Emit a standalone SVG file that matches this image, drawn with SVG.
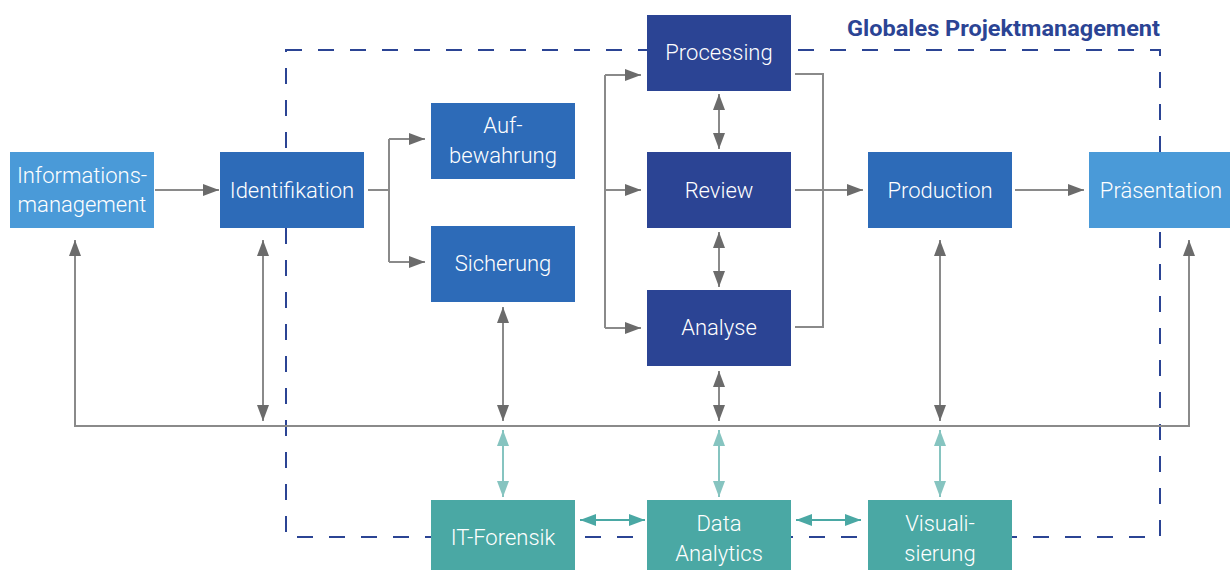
<svg xmlns="http://www.w3.org/2000/svg" width="1230" height="570" viewBox="0 0 1230 570">
<defs>
<style>
.lt{fill:#4A9AD8}.md{fill:#2D6BB8}.dk{fill:#2B4494}.tl{fill:#4AA8A4}
.t{font-family:Roboto,"Liberation Sans",sans-serif;font-weight:300;font-size:22px;fill:#ffffff;text-anchor:middle}
.g{fill:none;stroke:#8a8a8a;stroke-width:2}
.gl{fill:none;stroke:#86C4C0;stroke-width:2}
.gt{fill:none;stroke:#4AA8A4;stroke-width:2}
</style>
<marker id="ag" viewBox="0 0 16 12" refX="16" refY="6" markerWidth="16" markerHeight="12" markerUnits="userSpaceOnUse" orient="auto-start-reverse"><path d="M0,0 L16,6 L0,12 z" fill="#6b6b6b"/></marker>
<marker id="al" viewBox="0 0 16 12" refX="16" refY="6" markerWidth="16" markerHeight="12" markerUnits="userSpaceOnUse" orient="auto-start-reverse"><path d="M0,0 L16,6 L0,12 z" fill="#86C4C0"/></marker>
<marker id="at" viewBox="0 0 16 12" refX="16" refY="6" markerWidth="16" markerHeight="12" markerUnits="userSpaceOnUse" orient="auto-start-reverse"><path d="M0,0 L16,6 L0,12 z" fill="#4AA8A4"/></marker>
</defs>
<rect width="1230" height="570" fill="#ffffff"/>
<g id="frame">
<rect x="286" y="50" width="874" height="487" fill="none" stroke="#2B4494" stroke-width="2" stroke-dasharray="16 16"/>
<text x="847" y="36" font-family="Roboto,'Liberation Sans',sans-serif" font-weight="700" font-size="22" fill="#2B4494" textLength="313" lengthAdjust="spacingAndGlyphs">Globales Projektmanagement</text>
</g>
<g id="connectors">
<path class="g" d="M155,190 H219" marker-end="url(#ag)"/>
<path class="g" d="M368,190 H389 M389,139 V262"/>
<path class="g" d="M389,139 H425" marker-end="url(#ag)"/>
<path class="g" d="M389,262 H425" marker-end="url(#ag)"/>
<path class="g" d="M605,75 V328"/>
<path class="g" d="M605,75 H641" marker-end="url(#ag)"/>
<path class="g" d="M605,190 H641" marker-end="url(#ag)"/>
<path class="g" d="M605,328 H641" marker-end="url(#ag)"/>
<path class="g" d="M795,74 H823 V327 H795"/>
<path class="g" d="M795,190 H863" marker-end="url(#ag)"/>
<path class="g" d="M1015,190 H1084" marker-end="url(#ag)"/>
<path class="g" d="M719,94 V149" marker-start="url(#ag)" marker-end="url(#ag)"/>
<path class="g" d="M719,232 V287" marker-start="url(#ag)" marker-end="url(#ag)"/>
<path class="g" d="M75,240 V426 H1189 V240" marker-start="url(#ag)" marker-end="url(#ag)"/>
<path class="g" d="M263,240 V421" marker-start="url(#ag)" marker-end="url(#ag)"/>
<path class="g" d="M503,307 V421" marker-start="url(#ag)" marker-end="url(#ag)"/>
<path class="g" d="M719,371 V421" marker-start="url(#ag)" marker-end="url(#ag)"/>
<path class="g" d="M940,240 V421" marker-start="url(#ag)" marker-end="url(#ag)"/>
<path class="gl" d="M503,430 V497" marker-start="url(#al)" marker-end="url(#al)"/>
<path class="gl" d="M719,430 V497" marker-start="url(#al)" marker-end="url(#al)"/>
<path class="gl" d="M940,430 V497" marker-start="url(#al)" marker-end="url(#al)"/>
<path class="gt" d="M580,520 H645" marker-start="url(#at)" marker-end="url(#at)"/>
<path class="gt" d="M796,520 H861" marker-start="url(#at)" marker-end="url(#at)"/>
</g>
<g id="informationsmanagement"><rect class="lt" x="10" y="152" width="144" height="76"/><text class="t" x="82" y="183">Informations-</text><text class="t" x="82" y="212">management</text></g>
<g id="identifikation"><rect class="md" x="220" y="152" width="144" height="76"/><text class="t" x="292" y="198">Identifikation</text></g>
<g id="aufbewahrung"><rect class="md" x="431" y="103" width="144" height="76"/><text class="t" x="503" y="133">Auf-</text><text class="t" x="503" y="163">bewahrung</text></g>
<g id="sicherung"><rect class="md" x="431" y="226" width="144" height="76"/><text class="t" x="503" y="271">Sicherung</text></g>
<g id="processing"><rect class="dk" x="647" y="15" width="144" height="76"/><text class="t" x="719" y="60">Processing</text></g>
<g id="review"><rect class="dk" x="647" y="152" width="144" height="76"/><text class="t" x="719" y="198">Review</text></g>
<g id="analyse"><rect class="dk" x="647" y="290" width="144" height="76"/><text class="t" x="719" y="335">Analyse</text></g>
<g id="production"><rect class="md" x="868" y="152" width="144" height="76"/><text class="t" x="940" y="198">Production</text></g>
<g id="praesentation"><rect class="lt" x="1089" y="152" width="144" height="76"/><text class="t" x="1161" y="198">Präsentation</text></g>
<g id="itforensik"><rect class="tl" x="431" y="500" width="144" height="76"/><text class="t" x="503" y="545">IT-Forensik</text></g>
<g id="dataanalytics"><rect class="tl" x="647" y="500" width="144" height="76"/><text class="t" x="719" y="531">Data</text><text class="t" x="719" y="561">Analytics</text></g>
<g id="visualisierung"><rect class="tl" x="868" y="500" width="144" height="76"/><text class="t" x="940" y="531">Visuali-</text><text class="t" x="940" y="561">sierung</text></g>
</svg>
